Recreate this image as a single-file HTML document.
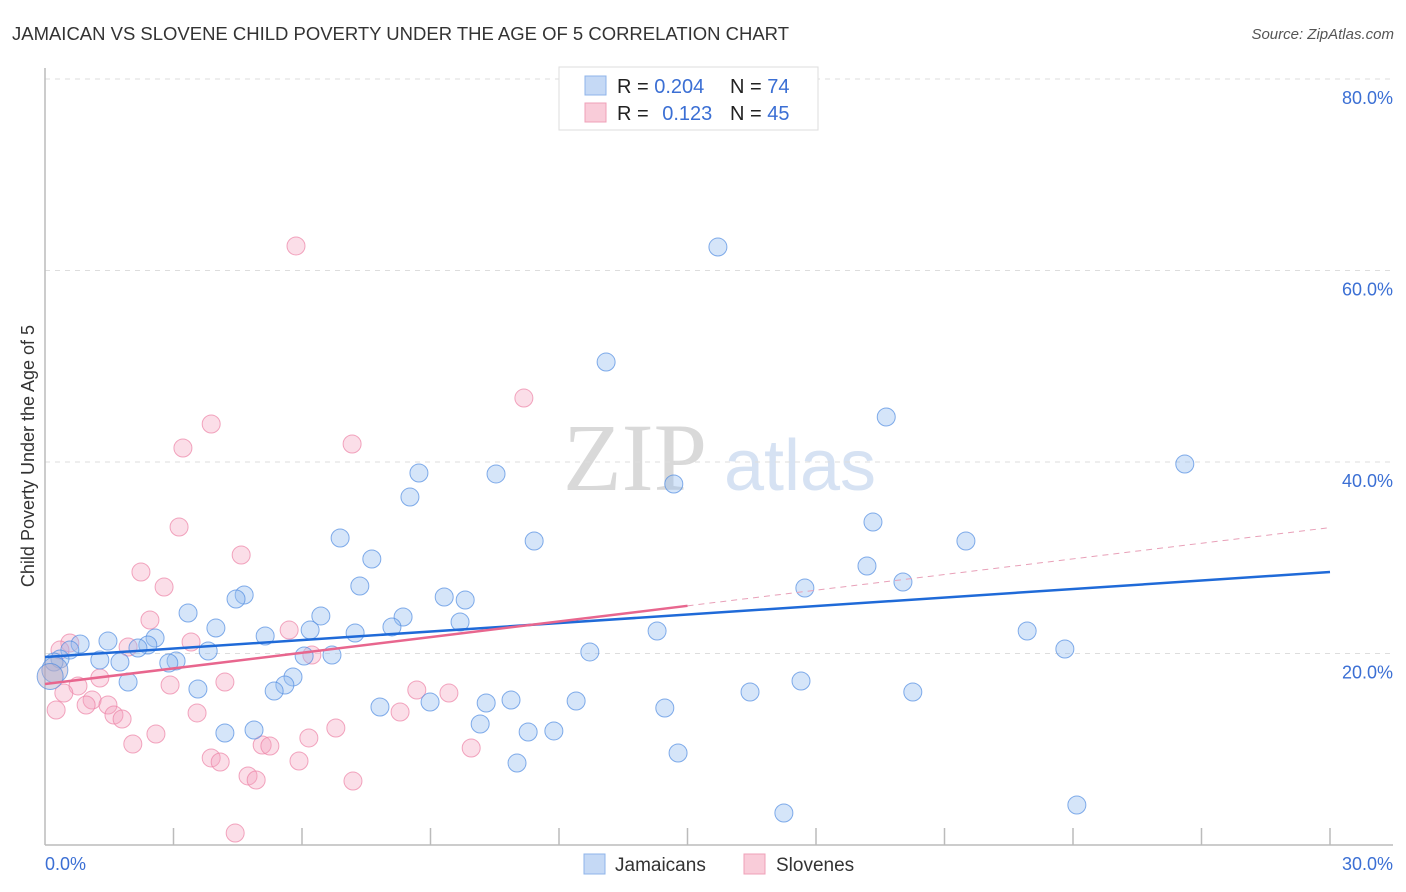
<!DOCTYPE html>
<html><head><meta charset="utf-8"><style>
body{margin:0;background:#fff;font-family:"Liberation Sans",sans-serif;}
#wrap{position:relative;width:1406px;height:892px;overflow:hidden;}
</style></head><body>
<div id="wrap">
<svg id="svg" width="1406" height="892" xmlns="http://www.w3.org/2000/svg">
<text x="12" y="40" font-size="18" fill="#333" textLength="777" lengthAdjust="spacingAndGlyphs">JAMAICAN VS SLOVENE CHILD POVERTY UNDER THE AGE OF 5 CORRELATION CHART</text>
<text x="1394" y="39" font-size="15" fill="#555" font-style="italic" text-anchor="end">Source: ZipAtlas.com</text>
<text x="635" y="490" font-size="96" fill="#d9d9d9" font-family="Liberation Serif,serif" text-anchor="middle">ZIP</text>
<text x="800" y="490" font-size="72" fill="#d6e2f3" text-anchor="middle">atlas</text>
<g id="grid"></g>
<line x1="45" y1="68" x2="45" y2="845" stroke="#bbb" stroke-width="1.5"/>
<line x1="45" y1="845" x2="1393" y2="845" stroke="#bbb" stroke-width="1.5"/>
<g id="ticks"></g>
<g id="pts"></g>
<g id="trends"></g>
<text transform="translate(34,456) rotate(-90)" font-size="18" fill="#333" text-anchor="middle">Child Poverty Under the Age of 5</text>
<text x="45" y="870" font-size="18" fill="#3b6fd4">0.0%</text>
<text x="1393" y="870" font-size="18" fill="#3b6fd4" text-anchor="end">30.0%</text>
<g>
<rect x="559" y="67" width="259" height="63" fill="#fff" stroke="#ddd"/>
<rect x="585" y="76" width="21" height="19" fill="#c5d9f5" stroke="#8fb4ea"/>
<rect x="585" y="103" width="21" height="19" fill="#f9ccd9" stroke="#efa0b8"/>
<text x="617" y="93" font-size="20" fill="#222">R = <tspan fill="#3b6fd4">0.204</tspan></text>
<text x="730" y="93" font-size="20" fill="#222">N = <tspan fill="#3b6fd4">74</tspan></text>
<text x="617" y="120" font-size="20" fill="#222">R = <tspan fill="#3b6fd4" dx="8">0.123</tspan></text>
<text x="730" y="120" font-size="20" fill="#222">N = <tspan fill="#3b6fd4">45</tspan></text>
</g>
<g>
<rect x="584" y="854" width="21" height="20" fill="#c5d9f5" stroke="#8fb4ea"/>
<text x="615" y="871" font-size="19" fill="#333">Jamaicans</text></g>
<g>
<rect x="744" y="854" width="21" height="20" fill="#f9ccd9" stroke="#efa0b8"/>
<text x="776" y="871" font-size="19" fill="#333">Slovenes</text></g>
</svg>
</div>
<script>
const yTicks=[20,40,60,80];
const xTickCount=10;
const blueX=[15.71,13.10,19.64,26.61,8.73,10.53,14.68,8.52,19.33,6.89,11.42,21.50,7.63,19.19,7.35,20.03,17.74,4.65,4.46,9.32,9.81,3.34,6.44,8.36,9.69,3.99,8.10,6.19,5.14,7.24,14.29,22.93,2.57,1.47,0.82,2.40,2.17,0.58,3.81,23.81,12.72,6.70,6.05,0.35,1.28,3.06,2.89,1.75,0.21,5.79,1.94,5.60,17.65,3.57,5.35,16.46,20.26,8.99,12.40,10.30,10.88,7.82,14.47,10.16,4.20,4.88,11.28,11.88,14.78,11.02,24.09,17.25,0.23,0.12];
const blueY=[62.45,50.44,44.70,39.79,38.85,38.75,37.70,36.34,33.73,32.06,31.75,31.75,29.87,29.14,27.05,27.47,26.84,26.11,25.69,25.90,25.59,24.23,23.92,23.81,23.29,22.66,22.77,22.45,21.83,22.14,22.35,22.35,21.62,21.30,20.99,20.89,20.57,20.36,20.26,20.47,20.16,19.84,19.74,19.42,19.32,19.22,19.01,19.11,19.11,17.55,17.02,16.71,17.13,16.29,16.08,15.98,15.98,14.93,15.04,14.83,15.14,14.41,14.31,12.64,11.70,12.01,11.80,11.91,9.61,8.56,4.18,3.34,18.28,17.6];
const pinkX=[5.86,11.18,3.88,7.17,3.22,3.13,4.58,2.24,2.78,2.45,5.70,3.41,1.94,0.58,6.23,0.35,1.28,4.20,0.77,2.92,8.68,9.43,1.10,0.44,1.47,0.96,3.55,1.61,0.26,1.80,6.79,2.59,6.16,2.05,5.07,5.25,9.95,3.88,4.09,5.93,4.74,4.93,7.19,4.44,8.29];
const pinkY=[62.56,46.68,43.97,41.88,41.46,33.21,30.29,28.51,26.94,23.50,22.45,21.20,20.68,21.10,19.84,20.36,17.44,17.02,16.61,16.71,16.19,15.87,15.14,15.87,14.62,14.62,13.79,13.58,14.10,13.16,12.22,11.59,11.18,10.55,10.44,10.34,10.13,9.09,8.67,8.77,7.21,6.79,6.68,1.25,13.89];
const blueTrend=[19.63,28.51];
const pinkTrend=[16.81,33.15];
const pinkSolidEnd=15;
const X0=45,X1=1330,Y0=845,YPER=191.5/20;
const sx=v=>X0+(X1-X0)*v/30, sy=v=>Y0-v*YPER;
const NS='http://www.w3.org/2000/svg';
function mk(t,a,p){const e=document.createElementNS(NS,t);for(const k in a)e.setAttribute(k,a[k]);p.appendChild(e);return e;}
const grid=document.getElementById('grid');
yTicks.forEach(v=>{
 const l=mk('line',{x1:45,x2:1393,y1:sy(v),y2:sy(v),stroke:'#ddd','stroke-dasharray':'5,5'},grid);
 
 
 const t=mk('text',{x:1393,y:sy(v)+25,'font-size':18,fill:'#3b6fd4','text-anchor':'end'},grid);
 t.textContent=v.toFixed(1)+'%';
 
 
});
const ticks=document.getElementById('ticks');
for(let i=1;i<=xTickCount;i++){const x=sx(30*i/xTickCount);
 const l=mk('line',{x1:x,x2:x,y1:828,y2:845,stroke:'#bbb','stroke-width':1.5},ticks);
 
 }
const pts=document.getElementById('pts');
pinkX.forEach((x,i)=>{const c=mk('circle',{cx:sx(x),cy:sy(pinkY[i]),r:9,fill:'rgba(244,160,188,0.35)',stroke:'rgba(236,130,165,0.7)','stroke-width':1},pts);
 
 });
blueX.forEach((x,i)=>{const big=i>=blueX.length-2;const c=mk('circle',{cx:sx(x),cy:sy(blueY[i]),r:big?13:9,fill:big?'rgba(180,170,200,0.45)':'rgba(150,190,240,0.4)',stroke:'rgba(80,140,225,0.7)','stroke-width':1},pts);
 
 });
const tr=document.getElementById('trends');
const bl=mk('line',{x1:sx(0),y1:sy(blueTrend[0]),x2:sx(30),y2:sy(blueTrend[1]),stroke:'#1f6ad8','stroke-width':2.5},tr);


const pe=pinkTrend[0]+(pinkTrend[1]-pinkTrend[0])*pinkSolidEnd/30;
const pl=mk('line',{x1:sx(0),y1:sy(pinkTrend[0]),x2:sx(pinkSolidEnd),y2:sy(pe),stroke:'#e8668e','stroke-width':2.5},tr);


const pd=mk('line',{x1:sx(pinkSolidEnd),y1:sy(pe),x2:sx(30),y2:sy(pinkTrend[1]),stroke:'#e8a0b8','stroke-width':1,'stroke-dasharray':'6,5'},tr);


</script>
</body></html>
